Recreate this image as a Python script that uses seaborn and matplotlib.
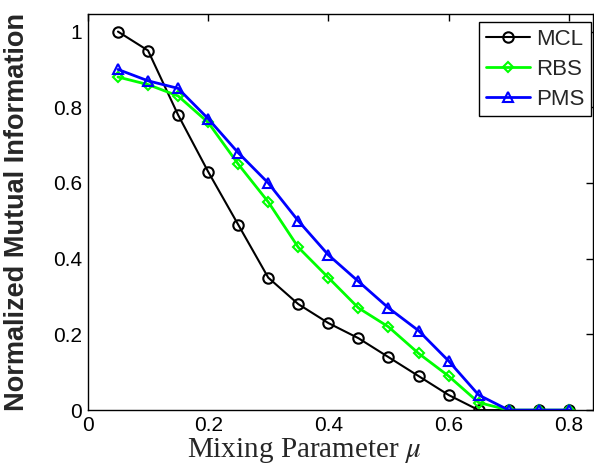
import matplotlib
matplotlib.use("Agg")
import matplotlib.pyplot as plt
import seaborn as sns
import pandas as pd

mu = [0.05, 0.10, 0.15, 0.20, 0.25, 0.30, 0.35, 0.40, 0.45, 0.50, 0.55, 0.60, 0.65, 0.70, 0.75, 0.80]
mcl = [1.00, 0.95, 0.78, 0.63, 0.49, 0.35, 0.28, 0.23, 0.19, 0.14, 0.09, 0.04, 0.00, 0.00, 0.00, 0.00]
rbs = [0.88, 0.86, 0.83, 0.76, 0.65, 0.55, 0.43, 0.35, 0.27, 0.22, 0.15, 0.09, 0.02, 0.00, 0.00, 0.00]
pms = [0.90, 0.87, 0.85, 0.77, 0.68, 0.60, 0.50, 0.41, 0.34, 0.27, 0.21, 0.13, 0.04, 0.00, 0.00, 0.00]
xticks = [0, 0.2, 0.4, 0.6, 0.8]
yticks = [0, 0.2, 0.4, 0.6, 0.8, 1.0]
xtick_labels = ["0", "0.2", "0.4", "0.6", "0.8"]
ytick_labels = ["0", "0.2", "0.4", "0.6", "0.8", "1"]

sns.set_style("white")
plt.rcParams["font.family"] = ["Liberation Sans", "DejaVu Sans"]
plt.rcParams["mathtext.fontset"] = "stix"

df = pd.DataFrame({"mu": mu * 3,
                   "nmi": mcl + rbs + pms,
                   "method": ["MCL"] * len(mu) + ["RBS"] * len(mu) + ["PMS"] * len(mu)})

fig = plt.figure(figsize=(5.94, 4.73), dpi=100)
ax = fig.add_axes([0.148, 0.133, 0.85, 0.837])

styles = {
    "MCL": dict(color="black", marker="o", lw=1.5),
    "RBS": dict(color="#00ff00", marker="D", lw=2.0),
    "PMS": dict(color="#0000ff", marker="^", lw=2.0),
}
for name in ["MCL", "RBS", "PMS"]:
    st = styles[name]
    sub = df[df["method"] == name]
    ms = 5.5 if st["marker"] == "D" else 7.5
    sns.lineplot(data=sub, x="mu", y="nmi", ax=ax, color=st["color"], marker=st["marker"],
                 markersize=ms, markerfacecolor="none", markeredgecolor=st["color"],
                 markeredgewidth=1.5, linewidth=st["lw"], label=name)

ax.set_xlim(0, 0.84)
ax.set_ylim(0, 1.046)
ax.set_xticks(xticks)
ax.set_xticklabels(xtick_labels)
ax.set_yticks(yticks)
ax.set_yticklabels(ytick_labels)
ax.tick_params(direction="in", length=5, width=1, top=True, right=True, labelsize=15,
               colors="black", pad=4)
for s in ax.spines.values():
    s.set_visible(True)
    s.set_color("black")
    s.set_linewidth(1.0)

ax.set_xlabel(r"Mixing Parameter $\mu$", fontsize=21, family=["Liberation Serif", "DejaVu Serif"])
ax.xaxis.set_label_coords(0.428, -0.065)
ax.set_ylabel("Normalized Mutual Information", fontsize=19.5, fontweight="bold")
ax.yaxis.set_label_coords(-0.115, 0.5)

leg = ax.legend(loc="upper right", bbox_to_anchor=(0.996, 0.98), fontsize=16, frameon=True,
                fancybox=False, edgecolor="black", framealpha=1, handlelength=2.0,
                borderpad=0.3, labelspacing=0.4, handletextpad=0.25, borderaxespad=0.0)
leg.get_frame().set_linewidth(1.0)

fig.savefig("out.png", dpi=100)
